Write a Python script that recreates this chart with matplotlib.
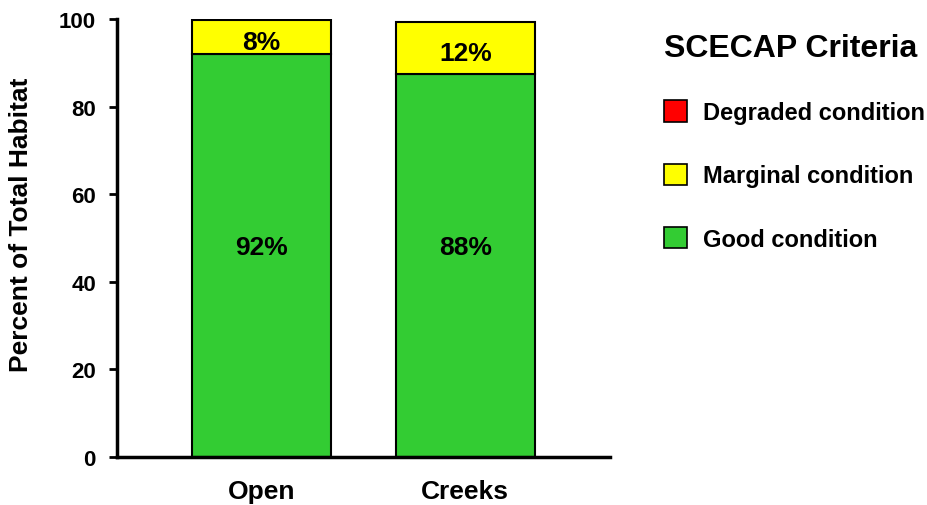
import numpy as np
import matplotlib.pyplot as plt
from matplotlib.patches import Patch

plt.rcParams['font.family'] = ['Liberation Sans', 'DejaVu Sans']
plt.rcParams['font.weight'] = 'bold'

categories = ["Open", "Creeks"]
good = [92.0, 87.4]
marginal = [7.8, 11.9]
degraded = [0.0, 0.0]
good_labels = ["92%", "88%"]
marginal_labels = ["8%", "12%"]
legend_labels = ["Degraded condition", "Marginal condition", "Good condition"]

green = "#33CC33"
yellow = "#FFFF00"
red = "#FF0000"

fig = plt.figure(figsize=(9.27, 5.06), dpi=100)
ax = fig.add_axes([0.126, 0.095, 0.532, 0.865])

x = np.arange(len(categories))
good = np.array(good)
marginal = np.array(marginal)
degraded = np.array(degraded)

ax.bar(x, good, width=0.68, color=green, edgecolor="black", linewidth=1.5)
ax.bar(x, marginal, width=0.68, bottom=good, color=yellow, edgecolor="black", linewidth=1.5)
ax.bar(x, degraded, width=0.68, bottom=good + marginal, color=red, edgecolor="black",
       linewidth=0)

for i in range(len(categories)):
    ax.text(x[i], 48, good_labels[i], ha="center", va="center", fontsize=19, fontweight="bold")
    ax.text(x[i], good[i] + marginal[i] / 2 - 1, marginal_labels[i], ha="center", va="center",
            fontsize=19, fontweight="bold")

ax.set_xlim(-0.71, 1.71)
ax.set_ylim(0, 100)
ax.set_yticks([0, 20, 40, 60, 80, 100])
ax.set_xticks(x)
ax.set_xticklabels(categories, fontsize=19, fontweight="bold")
ax.tick_params(axis="y", labelsize=16, width=2, length=6, direction="out", pad=9)
ax.tick_params(axis="x", length=0, pad=16)
for lab in ax.get_yticklabels():
    lab.set_fontweight("bold")
ax.set_ylabel("Percent of Total Habitat", fontsize=19, fontweight="bold")
ax.yaxis.set_label_coords(-0.170, 0.532)

ax.spines["top"].set_visible(False)
ax.spines["right"].set_visible(False)
ax.spines["left"].set_linewidth(2.5)
ax.spines["bottom"].set_linewidth(2.5)

handles = [Patch(facecolor=red, edgecolor="black", linewidth=1.2),
           Patch(facecolor=yellow, edgecolor="black", linewidth=1.2),
           Patch(facecolor=green, edgecolor="black", linewidth=1.2)]
leg = fig.legend(handles, legend_labels, loc="upper left", bbox_to_anchor=(0.693, 0.975),
                 frameon=False, fontsize=17, title="SCECAP Criteria",
                 title_fontproperties={"size": 23, "weight": "bold"},
                 handlelength=1.0, handleheight=1.0, handletextpad=0.65,
                 labelspacing=1.68, alignment="left")
for t in leg.get_texts():
    t.set_fontweight("bold")
leg._legend_box.sep = 27

fig.savefig("out.png", dpi=100)
